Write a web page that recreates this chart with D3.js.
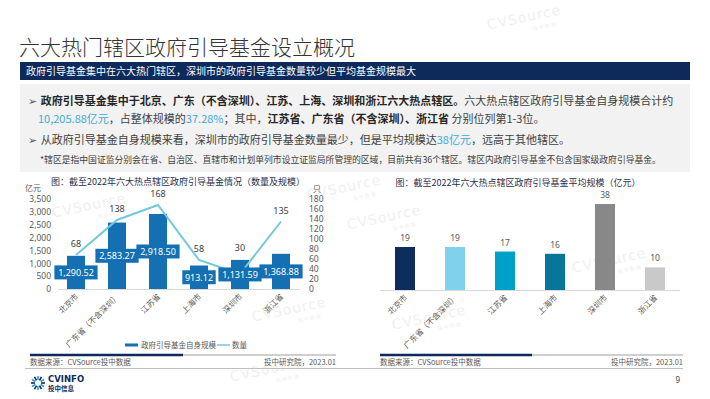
<!DOCTYPE html>
<html>
<head>
<meta charset="utf-8">
<script src="https://cdn.jsdelivr.net/npm/d3@7"></script>
<style>
  body { margin: 0; background: #fff; }
  svg { font-family: "Noto Sans CJK SC", "Noto Sans", sans-serif; display: block; }
</style>
</head>
<body>
<svg id="page" width="710" height="399"></svg>
<script>
// chart data
const regions = ["北京市", "广东省（不含深圳）", "江苏省", "上海市", "深圳市", "浙江省"];
const fundScale = [1290.52, 2583.27, 2918.50, 913.12, 1131.59, 1368.88]; // 亿元
const fundCount = [68, 138, 168, 58, 30, 135]; // 只
const avgScale = [19, 19, 17, 16, 38, 10]; // 亿元
const avgColors = ["#0d2d5e", "#7fd1ec", "#00a1c9", "#08769b", "#888888", "#c9c9c9"];
const leftTicks = [0, 500, 1000, 1500, 2000, 2500, 3000, 3500];
const rightTicks = [0, 20, 40, 60, 80, 100, 120, 140, 160, 180];

const svg = d3.select("#page");
const barBlue = "#1470b2";
const lineBlue = "#74c8dc";
const navy = "#0e2a5a";

// faint watermarks
const marks = [[525, 22], [90, 210], [345, 192], [385, 222], [268, 374], [430, 322], [290, 314], [610, 265]];
marks.forEach(([x, y]) => {
  const g = svg.append("g").attr("transform", `translate(${x},${y}) rotate(-12)`).attr("fill", "#f0f0f0");
  g.append("text").attr("text-anchor", "middle").style("font-family", "DejaVu Sans, sans-serif")
    .style("font-size", "14px").style("letter-spacing", "1px").text("CVSource");
  g.append("text").attr("x", 18).attr("y", 10).attr("text-anchor", "middle").style("font-size", "5px").text("投 中 数 据");
});

// page title + banner
svg.append("text").attr("x", 19).attr("y", 55).attr("fill", "#333")
  .style("font-size", "21px").style("font-weight", 300).text("六大热门辖区政府引导基金设立概况");
svg.append("rect").attr("x", 20).attr("y", 62).attr("width", 670).attr("height", 18).attr("fill", "#0e2a5a");
svg.append("text").attr("x", 26).attr("y", 75).attr("fill", "#fff").style("font-size", "10px")
  .text("政府引导基金集中在六大热门辖区，深圳市的政府引导基金数量较少但平均基金规模最大");

// summary box
svg.append("rect").attr("x", 20).attr("y", 84).attr("width", 670).attr("height", 88).attr("fill", "#f2f2f2");

function para(x, y, size, parts) {
  const t = svg.append("text").attr("x", x).attr("y", y).style("font-size", size + "px").attr("fill", "#404040");
  parts.forEach(p => {
    const s = t.append("tspan").text(p.t);
    if (p.b) s.style("font-weight", 700).attr("fill", "#262626");
    if (p.c) s.attr("fill", p.c);
    if (p.f) s.style("font-family", p.f);
  });
  return t;
}
const hl = "#3ba9d9";
para(28, 105, 11, [
  { t: "➢ ", f: "DejaVu Sans", c: "#555" },
  { t: "政府引导基金集中于北京、广东（不含深圳）、江苏、上海、深圳和浙江六大热点辖区。", b: true },
  { t: "六大热点辖区政府引导基金自身规模合计约" }
]);
para(38, 123, 11, [
  { t: "10,205.88亿元", c: hl },
  { t: "，占整体规模的" },
  { t: "37.28%", c: hl },
  { t: "；其中，" },
  { t: "江苏省、广东省（不含深圳）、浙江省", b: true },
  { t: " 分别位列第1-3位。" }
]);
para(28, 144, 11, [
  { t: "➢ ", f: "DejaVu Sans", c: "#555" },
  { t: "从政府引导基金自身规模来看，深圳市的政府引导基金数量最少，但是平均规模达" },
  { t: "38亿元", c: hl },
  { t: "，远高于其他辖区。" }
]);
para(40, 163, 8.8, [
  { t: "*辖区是指中国证监分别会在省、自治区、直辖市和计划单列市设立证监局所管理的区域，目前共有36个辖区。辖区内政府引导基金不包含国家级政府引导基金。" }
]);

// ---------- left chart: scale + count ----------
const L = svg.append("g");
L.append("text").attr("x", 178).attr("y", 184.5).attr("text-anchor", "middle").attr("fill", "#1f2f4f")
  .style("font-size", "9px").text("图：截至2022年六大热点辖区政府引导基金情况（数量及规模）");

const xL = d3.scalePoint().domain(regions).range([76, 281]);
const yL = d3.scaleLinear().domain([0, 3500]).range([289, 199]);
const yR = d3.scaleLinear().domain([0, 180]).range([289, 199]);

const axL = L.append("g").attr("transform", "translate(53,0)")
  .call(d3.axisLeft(yL).tickValues(leftTicks).tickSize(0).tickPadding(2).tickFormat(d3.format(",")));
axL.select(".domain").remove();
axL.selectAll("text").attr("fill", "#595959").style("font-size", "8.5px").style("font-family", "Noto Sans, sans-serif");

const axR = L.append("g").attr("transform", "translate(307,0)")
  .call(d3.axisRight(yR).tickValues(rightTicks).tickSize(0).tickPadding(2));
axR.select(".domain").remove();
axR.selectAll("text").attr("fill", "#595959").style("font-size", "8.5px").style("font-family", "Noto Sans, sans-serif");

L.append("text").attr("x", 25).attr("y", 191).attr("fill", "#595959").style("font-size", "8px").text("亿元");
L.append("text").attr("x", 313).attr("y", 192).attr("fill", "#595959").style("font-size", "8px").text("只");

L.append("line").attr("x1", 58).attr("x2", 300).attr("y1", 289.5).attr("y2", 289.5).attr("stroke", "#d9d9d9");

const bw = 18;
L.selectAll(".bar").data(regions).join("rect")
  .attr("x", d => xL(d) - bw / 2)
  .attr("y", (d, i) => yL(fundScale[i]))
  .attr("width", bw)
  .attr("height", (d, i) => yL(0) - yL(fundScale[i]))
  .attr("fill", barBlue);

const line = d3.line().x((d, i) => xL(regions[i])).y(d => yR(d));
L.append("path").datum(fundCount).attr("d", line).attr("fill", "none").attr("stroke", lineBlue).attr("stroke-width", 2);

// bar value labels (boxed, inside bar) and count labels
const fmt2 = d3.format(",.2f");
regions.forEach((r, i) => {
  const yMid = Math.min((yL(fundScale[i]) + yL(0)) / 2, yL(0) - 8);
  const txt = fmt2(fundScale[i]);
  const w = txt.length * 4.9 + 4;
  L.append("rect").attr("x", xL(r) - w / 2).attr("y", yMid - 7).attr("width", w).attr("height", 14).attr("fill", barBlue);
  L.append("text").attr("x", xL(r)).attr("y", yMid + 3.5).attr("text-anchor", "middle").attr("fill", "#fff")
    .style("font-size", "9px").style("font-family", "Noto Sans, sans-serif").text(txt);
  const ly = Math.min(yR(fundCount[i]) - 8, yL(fundScale[i]) - 9);
  L.append("text").attr("x", xL(r)).attr("y", ly).attr("text-anchor", "middle").attr("fill", "#404040")
    .style("font-size", "9px").style("font-family", "Noto Sans, sans-serif").text(fundCount[i]);
});

L.selectAll(".xl").data(regions).join("text")
  .attr("transform", d => `translate(${xL(d) + 3},${297}) rotate(-45)`)
  .attr("text-anchor", "end").attr("fill", "#595959").style("font-size", "8px").text(d => d);

// legend
L.append("rect").attr("x", 125).attr("y", 343.5).attr("width", 13).attr("height", 3).attr("fill", barBlue);
L.append("text").attr("x", 141).attr("y", 348).attr("fill", "#595959").style("font-size", "7.5px").text("政府引导基金自身规模");
L.append("line").attr("x1", 217).attr("x2", 230).attr("y1", 345).attr("y2", 345).attr("stroke", lineBlue).attr("stroke-width", 1.5);
L.append("text").attr("x", 232).attr("y", 348).attr("fill", "#595959").style("font-size", "7.5px").text("数量");

// ---------- right chart: average scale ----------
const R = svg.append("g");
R.append("text").attr("x", 518).attr("y", 185.5).attr("text-anchor", "middle").attr("fill", "#1f2f4f")
  .style("font-size", "9px").text("图：截至2022年六大热点辖区政府引导基金平均规模（亿元）");

const xA = d3.scalePoint().domain(regions).range([405, 655]);
const yA = d3.scaleLinear().domain([0, 40]).range([290, 199.5]);

R.append("line").attr("x1", 380).attr("x2", 680).attr("y1", 290.5).attr("y2", 290.5).attr("stroke", "#d9d9d9");
const aw = 20;
R.selectAll(".abar").data(regions).join("rect")
  .attr("x", d => xA(d) - aw / 2)
  .attr("y", (d, i) => yA(avgScale[i]))
  .attr("width", aw)
  .attr("height", (d, i) => yA(0) - yA(avgScale[i]))
  .attr("fill", (d, i) => avgColors[i]);
R.selectAll(".alab").data(regions).join("text")
  .attr("x", d => xA(d)).attr("y", (d, i) => yA(avgScale[i]) - 6)
  .attr("text-anchor", "middle").attr("fill", "#595959")
  .style("font-size", "8.5px").style("font-family", "Noto Sans, sans-serif")
  .text((d, i) => avgScale[i]);
R.selectAll(".axl").data(regions).join("text")
  .attr("transform", d => `translate(${xA(d) + 3},${298}) rotate(-45)`)
  .attr("text-anchor", "end").attr("fill", "#595959").style("font-size", "8px").text(d => d);

// ---------- footers ----------
function footer(x0, xm, x1) {
  svg.append("line").attr("x1", xm).attr("x2", x1).attr("y1", 355).attr("y2", 355).attr("stroke", "#cfcfcf").attr("stroke-width", 2);
  svg.append("line").attr("x1", x0).attr("x2", xm).attr("y1", 355).attr("y2", 355).attr("stroke", navy).attr("stroke-width", 2.5);
  svg.append("text").attr("x", x0).attr("y", 365).attr("fill", "#595959").style("font-size", "7.5px").text("数据来源：CVSource投中数据");
  svg.append("text").attr("x", x1).attr("y", 365).attr("text-anchor", "end").attr("fill", "#595959").style("font-size", "7.5px").text("投中研究院，2023.01");
}
footer(30, 183, 336);
footer(380, 532, 683);
svg.append("line").attr("x1", 25).attr("x2", 683).attr("y1", 368.5).attr("y2", 368.5).attr("stroke", "#bfbfbf");
svg.append("text").attr("x", 680).attr("y", 383).attr("text-anchor", "end").attr("fill", "#404040")
  .style("font-size", "8px").style("font-family", "Noto Sans, sans-serif").text("9");

// logo
const logo = svg.append("g").attr("transform", "translate(38,383)");
d3.range(0, 360, 30).forEach(a => {
  const rad = a * Math.PI / 180;
  logo.append("line").attr("x1", Math.cos(rad) * 3).attr("y1", Math.sin(rad) * 3)
    .attr("x2", Math.cos(rad) * 7).attr("y2", Math.sin(rad) * 7)
    .attr("stroke", a % 60 ? "#2a9fd6" : navy).attr("stroke-width", 1.6);
});
svg.append("text").attr("x", 48).attr("y", 382).attr("fill", navy).style("font-size", "8.5px")
  .style("font-weight", 700).style("font-family", "DejaVu Sans, sans-serif").text("CVINFO");
svg.append("text").attr("x", 48).attr("y", 391).attr("fill", navy).style("font-size", "6.5px").style("font-weight", 700).text("投中信息");
</script>
</body>
</html>
